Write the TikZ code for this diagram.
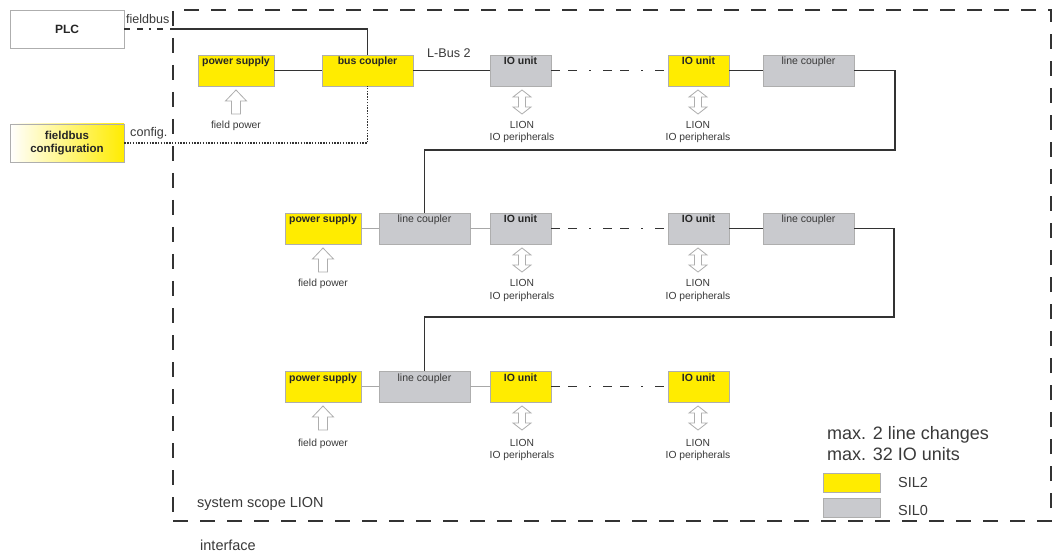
\documentclass[tikz,border=0pt]{standalone}
\usepackage{fontspec}
\setmainfont{Liberation Sans}
\definecolor{sy}{HTML}{FFEC00}
\definecolor{sg}{HTML}{C9CACE}
\definecolor{bl}{HTML}{AEAEAE}
\definecolor{dk}{HTML}{333333}
\definecolor{tg}{HTML}{A8A8A8}
\definecolor{txt}{HTML}{3A3A3A}
\tikzset{
  unit/.style={draw=bl, line width=0.8pt, inner xsep=0pt, inner ysep=2pt, text height=8pt, text depth=19pt, minimum height=31pt},
  sil2/.style={unit, fill=sy, font=\fontsize{10.5}{12}\selectfont\bfseries, text=black!85},
  sil0/.style={unit, fill=sg, font=\fontsize{10.5}{12}\selectfont, text=txt},
  sil0b/.style={unit, fill=sg, font=\fontsize{10.5}{12}\selectfont\bfseries, text=black!85},
  bus/.style={draw=dk, line width=1.8pt},
  thin/.style={draw=tg, line width=0.8pt},
  ddot/.style={draw=dk, line width=1.8pt, dash pattern=on 9pt off 8pt on 9pt off 12pt on 2pt off 12pt},
  fbdd/.style={draw=dk, line width=1.8pt, dash pattern=on 6pt off 7pt on 6pt off 6pt on 2pt off 6pt},
  cfgline/.style={draw=dk, line width=1.4pt, dash pattern=on 1.4pt off 1.4pt},
  scopebox/.style={draw=dk, line width=1.8pt, dash pattern=on 15pt off 12pt, inner sep=0pt},
  lbl/.style={font=\fontsize{10.3}{12}\selectfont, text=txt, inner sep=0pt},
  arrowline/.style={draw=bl, line width=0.8pt, fill=white, line join=miter},
  fparrow/.pic={\path[arrowline] (0,0) -- (10.5,11) -- (4.5,11) -- (4.5,24) -- (-4.5,24) -- (-4.5,11) -- (-10.5,11) -- cycle;},
  ioarrow/.pic={\path[arrowline] (0,0) -- (9,7) -- (3.5,7) -- (3.5,17) -- (9,17) -- (0,24) -- (-9,17) -- (-3.5,17) -- (-3.5,7) -- (-9,7) -- cycle;}
}
\begin{document}
\begin{tikzpicture}[x=1pt, y=-1pt]
\useasboundingbox[fill=white] (0,0) rectangle (1054,553);

% system scope
\node[scopebox, minimum width=878pt, minimum height=511pt] (sys) at (612,265.5) {};

% external boxes
\node[draw=bl, line width=0.8pt, fill=white, minimum width=114pt, minimum height=38pt, inner sep=0pt, font=\fontsize{12}{14}\selectfont\bfseries, text=black!85] (plc) at (67,29) {PLC};
\node[draw=bl, line width=0.8pt, shading=axis, left color=white, right color=sy, shading angle=90, minimum width=114pt, minimum height=38pt, inner sep=0pt, align=center, font=\fontsize{11.5}{13}\selectfont\bfseries, text=black!85] (cfg) at (67,143) {fieldbus\\configuration};

% row 1
\node[sil2, minimum width=76pt] (ps1) at (236,70.5) {power supply};
\node[sil2, minimum width=91pt] (bc) at (367.5,70.5) {bus coupler};
\node[sil0b, minimum width=61pt] (io11) at (520.5,70.5) {IO unit};
\node[sil2, minimum width=61pt] (io12) at (698.5,70.5) {IO unit};
\node[sil0, minimum width=91pt] (lc1) at (808.5,70.5) {line coupler};

% row 2
\node[sil2, minimum width=76pt] (ps2) at (323,228.5) {power supply};
\node[sil0, minimum width=91pt] (lc21) at (424.5,228.5) {line coupler};
\node[sil0b, minimum width=61pt] (io21) at (520.5,228.5) {IO unit};
\node[sil0b, minimum width=61pt] (io22) at (698.5,228.5) {IO unit};
\node[sil0, minimum width=91pt] (lc22) at (808.5,228.5) {line coupler};

% row 3
\node[sil2, minimum width=76pt] (ps3) at (323,386.5) {power supply};
\node[sil0, minimum width=91pt] (lc31) at (424.5,386.5) {line coupler};
\node[sil2, minimum width=61pt] (io31) at (520.5,386.5) {IO unit};
\node[sil2, minimum width=61pt] (io32) at (698.5,386.5) {IO unit};

% connectors
\coordinate (fbx) at (173,29);
\draw[fbdd] (plc.east) -- (fbx);
\draw[bus] (fbx) -| (bc.north);
\draw[cfgline] (cfg.east) -| (bc.south);

\draw[bus] (ps1) -- (bc);
\draw[bus] (bc) -- (io11);
\draw[ddot] (io11) -- (io12);
\draw[bus] (io12) -- (lc1);
\coordinate (r1) at (895,150);
\draw[bus] (lc1.east) -| (r1) -| (lc21.north);

\draw[thin] (ps2) -- (lc21);
\draw[thin] (lc21) -- (io21);
\draw[ddot] (io21) -- (io22);
\draw[bus] (io22) -- (lc22);
\coordinate (r2) at (894,317);
\draw[bus] (lc22.east) -| (r2) -| (lc31.north);

\draw[thin] (ps3) -- (lc31);
\draw[thin] (lc31) -- (io31);
\draw[ddot] (io31) -- (io32);

% labels on connectors
\node[font=\fontsize{12.5}{15}\selectfont, text=txt, anchor=base west, inner sep=0pt] (fbl) at (126,24) {fieldbus};
\node[font=\fontsize{12.6}{15}\selectfont, text=txt, anchor=base west, inner sep=0pt] (cfl) at (130,137) {config.};
\node[font=\fontsize{12.6}{15}\selectfont, text=txt, anchor=base west, inner sep=0pt] (lbus) at (427,58) {L-Bus 2};

% field power arrows and labels
\pic at (236,90) {fparrow};
\node[lbl, anchor=base] (fp1) at (236,129) {field power};
\pic at (323,248) {fparrow};
\node[lbl, anchor=base] (fp2) at (323,287) {field power};
\pic at (323,406) {fparrow};
\node[lbl, anchor=base] (fp3) at (323,446) {field power};

% IO peripheral arrows and labels
\pic at (522,90) {ioarrow};
\node[lbl, anchor=base] (l11) at (522,129) {LION};
\node[lbl, anchor=base] (p11) at (522,141) {IO peripherals};
\pic at (698,90) {ioarrow};
\node[lbl, anchor=base] (l12) at (698,129) {LION};
\node[lbl, anchor=base] (p12) at (698,141) {IO peripherals};

\pic at (522,248) {ioarrow};
\node[lbl, anchor=base] (l21) at (522,287) {LION};
\node[lbl, anchor=base] (p21) at (522,299) {IO peripherals};
\pic at (698,248) {ioarrow};
\node[lbl, anchor=base] (l22) at (698,287) {LION};
\node[lbl, anchor=base] (p22) at (698,299) {IO peripherals};

\pic at (522,406) {ioarrow};
\node[lbl, anchor=base] (l31) at (522,446) {LION};
\node[lbl, anchor=base] (p31) at (522,458) {IO peripherals};
\pic at (698,406) {ioarrow};
\node[lbl, anchor=base] (l32) at (698,446) {LION};
\node[lbl, anchor=base] (p32) at (698,458) {IO peripherals};

% legend
\node[font=\fontsize{18}{20}\selectfont, text=txt, anchor=base west, inner sep=0pt] (max1) at (827,439) {max. 2 line changes};
\node[font=\fontsize{18}{20}\selectfont, text=txt, anchor=base west, inner sep=0pt] (max2) at (827,460) {max. 32 IO units};
\node[draw=bl, line width=0.8pt, fill=sy, minimum width=57pt, minimum height=19pt, inner sep=0pt] (lg2) at (851.5,482.5) {};
\node[draw=bl, line width=0.8pt, fill=sg, minimum width=57pt, minimum height=19pt, inner sep=0pt] (lg0) at (851.5,507.5) {};
\node[font=\fontsize{14.5}{16}\selectfont, text=txt, anchor=base west, inner sep=0pt] (s2) at (898,487) {SIL2};
\node[font=\fontsize{14.5}{16}\selectfont, text=txt, anchor=base west, inner sep=0pt] (s0) at (898,515) {SIL0};

% scope texts
\node[font=\fontsize{14.5}{16}\selectfont, text=txt, anchor=base west, inner sep=0pt] (scl) at (197,507) {system scope LION};
\node[font=\fontsize{14.5}{16}\selectfont, text=txt, anchor=base west, inner sep=0pt] (ifc) at (200,550) {interface};
\end{tikzpicture}
\end{document}
